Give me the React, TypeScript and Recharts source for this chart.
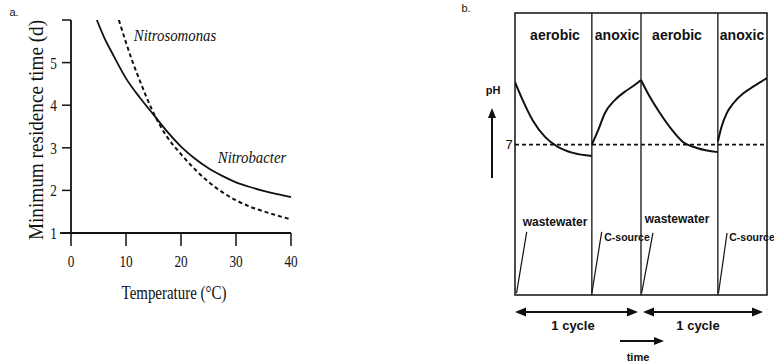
import { LineChart, Line, XAxis, YAxis, ReferenceLine, ReferenceArea } from 'recharts';

// ---- panel a: minimum residence time vs temperature ----
const tempTicks = [0, 10, 20, 30, 40];
const dayTicks = [1, 2, 3, 4, 5, 6];

const nitrobacterTemp = [4.7, 6, 7.5, 10, 12.5, 15, 17.5, 20, 22.5, 25, 27.5, 30, 32.5, 35, 37.5, 40];
const nitrobacterDays = [6.0, 5.6, 5.22, 4.63, 4.18, 3.78, 3.38, 3.03, 2.75, 2.52, 2.34, 2.19, 2.08, 1.99, 1.91, 1.84];

const nitrosomonasTemp = [8.7, 10, 11.25, 12.5, 13.75, 15, 17.5, 20, 22.5, 25, 27.5, 30, 32.5, 35, 37.5, 40];
const nitrosomonasDays = [6.0, 5.47, 5.0, 4.58, 4.18, 3.82, 3.25, 2.85, 2.5, 2.2, 1.96, 1.77, 1.62, 1.51, 1.41, 1.32];

// ---- panel b: pH over two reactor cycles ----
const phaseBounds = [0, 0.61, 1.0, 1.61, 2.0];
const phaseNames = ['aerobic', 'anoxic', 'aerobic', 'anoxic'];

const aerobic1Time = [0, 0.06, 0.14, 0.24, 0.34, 0.46, 0.61];
const aerobic1PH = [8.66, 8.19, 7.65, 7.2, 6.94, 6.78, 6.7];
const anoxic1Time = [0.61, 0.661, 0.714, 0.794, 0.873, 0.952, 1.0];
const anoxic1PH = [7.0, 7.39, 7.84, 8.19, 8.41, 8.59, 8.72];
const aerobic2Time = [1.0, 1.07, 1.15, 1.246, 1.333, 1.444, 1.61];
const aerobic2PH = [8.72, 8.27, 7.84, 7.39, 7.07, 6.91, 6.8];
const anoxic2Time = [1.61, 1.64, 1.68, 1.733, 1.81, 1.89, 2.0];
const anoxic2PH = [7.08, 7.48, 7.83, 8.1, 8.36, 8.54, 8.77];

const feedNames = ['wastewater', 'C-source', 'wastewater', 'C-source'];
const feedTopTime = [0.093, 0.688, 1.095, 1.683];
const feedTopPH = [4.68, 4.68, 4.65, 4.65];
const feedFootTime = [0.012, 0.61, 1.005, 1.615];
const feedFootPH = 3.05;

const zip = (xs: number[], ys: number[], xk: string, yk: string) =>
  xs.map((x, i) => ({ [xk]: x, [yk]: ys[i] }));

const INK = '#111';
const SERIF = '"Liberation Serif", "Times New Roman", serif';
const SANS = '"Liberation Sans", Arial, sans-serif';

function Txt({ x, y, children, style, scale = 1, rotate = 0 }: any) {
  return (
    <div
      style={{
        position: 'absolute', left: x, top: y,
        transform: `translate(-50%, -50%) rotate(${rotate}deg) scale(${scale}, 1)`,
        whiteSpace: 'nowrap', color: INK, lineHeight: 1, ...style,
      }}
    >
      {children}
    </div>
  );
}

// scanned figure: serif digits look tall and narrow
function XTick({ x, y, payload }: any) {
  return (
    <text
      transform={`translate(${x},${y}) scale(0.78,1)`} textAnchor="middle" dy="0.71em"
      fontSize={17} fontFamily={SERIF} fill={INK}
    >
      {payload.value}
    </text>
  );
}

function YTick({ x, y, payload }: any) {
  return (
    <text
      transform={`translate(${x},${y}) scale(0.78,1)`} textAnchor="end" dy="0.355em"
      fontSize={17} fontFamily={SERIF} fill={INK}
    >
      {payload.value === 6 ? '' : payload.value}
    </text>
  );
}

function PanelA() {
  return (
    <div style={{ position: 'absolute', left: 0, top: 0 }}>
      <LineChart width={320} height={310} margin={{ top: 20, right: 29, left: 11, bottom: 7 }}>
        <XAxis
          dataKey="temp" type="number" domain={[0, 40]} ticks={tempTicks} height={70}
          tickSize={13} tickMargin={9} tick={<XTick />}
          axisLine={{ stroke: INK, strokeWidth: 1.8 }} tickLine={{ stroke: INK, strokeWidth: 1.5 }}
        />
        <YAxis
          type="number" domain={[1, 6]} ticks={dayTicks} width={60} allowDataOverflow
          tickSize={9} tickMargin={5} tick={<YTick />}
          axisLine={{ stroke: INK, strokeWidth: 1.8 }} tickLine={{ stroke: INK, strokeWidth: 1.5 }}
        />
        <ReferenceLine
          segment={[{ x: -2, y: 1 }, { x: 0, y: 1 }]} ifOverflow="visible"
          stroke={INK} strokeWidth={1.8}
        />
        <Line
          data={zip(nitrobacterTemp, nitrobacterDays, 'temp', 'days')} dataKey="days"
          type="monotone" stroke={INK} strokeWidth={1.8} dot={false} isAnimationActive={false}
        />
        <Line
          data={zip(nitrosomonasTemp, nitrosomonasDays, 'temp', 'days')} dataKey="days"
          type="monotone" stroke={INK} strokeWidth={2} strokeDasharray="4 3" dot={false}
          isAnimationActive={false}
        />
      </LineChart>
      <Txt x={14} y={12} style={{ fontFamily: SANS, fontSize: 11 }}>a.</Txt>
      <Txt x={175} y={35} scale={0.87} style={{ fontFamily: SERIF, fontSize: 17, fontStyle: 'italic' }}>Nitrosomonas</Txt>
      <Txt x={252} y={157} scale={0.87} style={{ fontFamily: SERIF, fontSize: 17, fontStyle: 'italic' }}>Nitrobacter</Txt>
      <Txt x={174} y={293} scale={0.83} style={{ fontFamily: SERIF, fontSize: 18 }}>Temperature (°C)</Txt>
      <Txt x={36} y={130} rotate={-90} scale={0.96} style={{ fontFamily: SERIF, fontSize: 20 }}>
        Minimum residence time (d)
      </Txt>
    </div>
  );
}

function PanelB() {
  const segments = [
    zip(aerobic1Time, aerobic1PH, 't', 'ph'),
    zip(anoxic1Time, anoxic1PH, 't', 'ph'),
    zip(aerobic2Time, aerobic2PH, 't', 'ph'),
    zip(anoxic2Time, anoxic2PH, 't', 'ph'),
  ];
  const bold = { fontFamily: SANS, fontWeight: 700 };
  return (
    <div style={{ position: 'absolute', left: 460, top: 0 }}>
      <LineChart width={314} height={364} margin={{ top: 13, right: 7, left: 55, bottom: 69 }}>
        <XAxis dataKey="t" type="number" domain={[0, 2]} hide allowDataOverflow />
        <YAxis type="number" domain={[3, 10.5]} hide allowDataOverflow />
        <ReferenceArea x1={0} x2={2} y1={3} y2={10.5} fill="none" stroke={INK} strokeWidth={1.5} />
        {phaseBounds.slice(1, -1).map((b) => (
          <ReferenceLine key={b} x={b} stroke={INK} strokeWidth={1.3} />
        ))}
        <ReferenceLine y={7} stroke={INK} strokeWidth={1.8} strokeDasharray="4 3" />
        {feedNames.map((n, i) => (
          <ReferenceLine
            key={n + i}
            segment={[{ x: feedTopTime[i], y: feedTopPH[i] }, { x: feedFootTime[i], y: feedFootPH }]}
            stroke={INK} strokeWidth={1.2}
          />
        ))}
        {segments.map((d, i) => (
          <Line
            key={i} data={d} dataKey="ph" type="monotone" stroke={INK} strokeWidth={2}
            dot={false} isAnimationActive={false}
          />
        ))}
      </LineChart>
      <svg width={314} height={364} style={{ position: 'absolute', left: 0, top: 0, pointerEvents: 'none' }}>
        {/* pH up arrow */}
        <line x1={32} y1={178} x2={32} y2={116} stroke={INK} strokeWidth={2} />
        <polygon points="32,108 28,118 36,118" fill={INK} />
        {/* 1 cycle arrows */}
        <line x1={62} y1={312} x2={171} y2={312} stroke={INK} strokeWidth={2} />
        <polygon points="55,312 66,307.5 66,316.5" fill={INK} />
        <polygon points="178,312 167,307.5 167,316.5" fill={INK} />
        <line x1={190} y1={312} x2={296} y2={312} stroke={INK} strokeWidth={2} />
        <polygon points="183,312 194,307.5 194,316.5" fill={INK} />
        <polygon points="303,312 292,307.5 292,316.5" fill={INK} />
        {/* time arrow */}
        <line x1={160} y1={341} x2={196} y2={341} stroke={INK} strokeWidth={2} />
        <polygon points="204,341 194,337 194,345" fill={INK} />
      </svg>
      <Txt x={6} y={8} style={{ fontFamily: SANS, fontSize: 11 }}>b.</Txt>
      {phaseNames.map((n, i) => (
        <Txt key={i} x={[95, 157, 217, 282][i]} y={35} style={{ ...bold, fontSize: 14 }}>{n}</Txt>
      ))}
      <Txt x={33} y={90} style={{ ...bold, fontSize: 11 }}>pH</Txt>
      <Txt x={49} y={144} style={{ fontFamily: SANS, fontSize: 13 }}>7</Txt>
      <Txt x={95} y={222} style={{ ...bold, fontSize: 12 }}>{feedNames[0]}</Txt>
      <Txt x={167} y={237} style={{ ...bold, fontSize: 10.5 }}>{feedNames[1]}</Txt>
      <Txt x={217} y={219} style={{ ...bold, fontSize: 12 }}>{feedNames[2]}</Txt>
      <Txt x={292} y={237} style={{ ...bold, fontSize: 10.5 }}>{feedNames[3]}</Txt>
      <Txt x={113} y={325} style={{ ...bold, fontSize: 13 }}>1 cycle</Txt>
      <Txt x={238} y={325} style={{ ...bold, fontSize: 13 }}>1 cycle</Txt>
      <Txt x={178} y={357} style={{ ...bold, fontSize: 11 }}>time</Txt>
    </div>
  );
}

export default function App() {
  return (
    <div style={{ position: 'absolute', left: 0, top: 0, width: 774, height: 364, background: '#fff', overflow: 'hidden' }}>
      <PanelA />
      <PanelB />
    </div>
  );
}
